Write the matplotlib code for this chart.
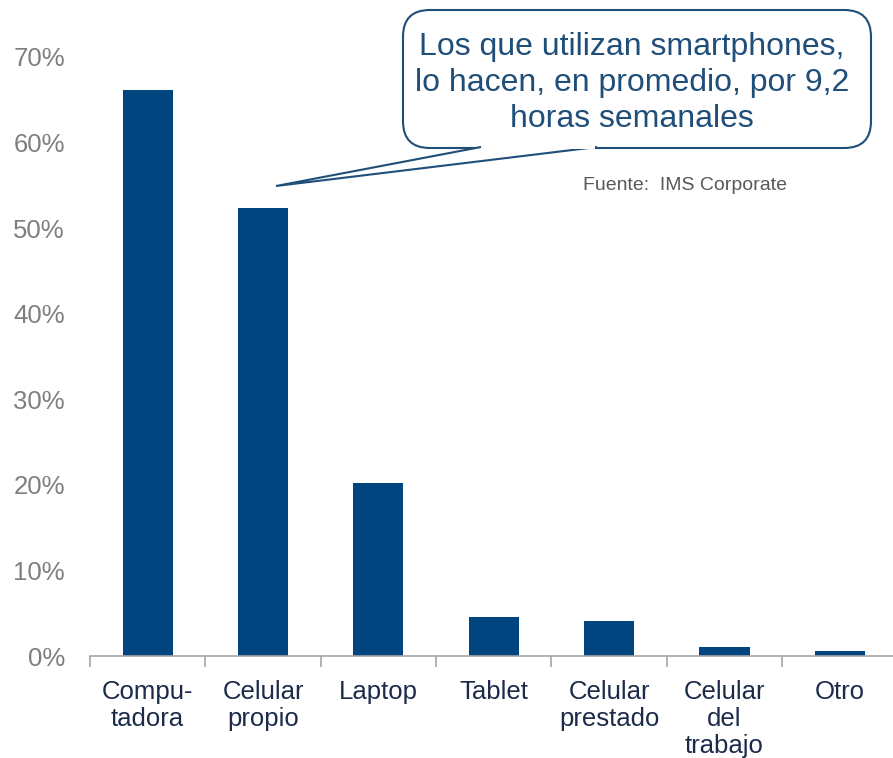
import matplotlib
matplotlib.use("Agg")
import matplotlib.pyplot as plt
from matplotlib.patches import FancyBboxPatch, Polygon

# data
categories = ["Compu-\ntadora", "Celular\npropio", "Laptop", "Tablet",
              "Celular\nprestado", "Celular\ndel\ntrabajo", "Otro"]
shares = [66.1, 52.3, 20.2, 4.6, 4.1, 1.05, 0.6]
y_ticks = [0, 10, 20, 30, 40, 50, 60, 70]
y_tick_labels = [f"{t}%" for t in y_ticks]

callout_text = "Los que utilizan smartphones,\nlo hacen, en promedio, por 9,2\nhoras semanales"
source_text = "Fuente:  IMS Corporate"

bar_color = "#00457f"
label_color = "#1c2b4a"
grey = "#7f7f7f"

plt.rcParams['font.family'] = ['Liberation Sans', 'DejaVu Sans']

fig = plt.figure(figsize=(8.93, 7.58), dpi=100)
ax = fig.add_axes([90 / 893, 1 - 656 / 758, 1 - 90 / 893 + 0.005, (656 - 57) / 758])

x = list(range(len(categories)))
ax.bar(x, shares, width=0.435, color=bar_color, zorder=2)

ax.set_xlim(-0.5, len(categories) - 0.5)
ax.set_ylim(0, 70)
ax.set_yticks(y_ticks)
ax.set_yticklabels(y_tick_labels, fontsize=18.5, color=grey)
ax.tick_params(axis="y", length=0, pad=18)

# category labels, ticks at the boundaries
ax.set_xticks(x)
ax.set_xticklabels(categories, fontsize=18.5, color=label_color, linespacing=1.17, va="top")
ax.tick_params(axis="x", length=0, pad=17)
ax.set_xticks([i - 0.5 for i in range(len(categories) + 1)], minor=True)
ax.tick_params(axis="x", which="minor", length=8, color="#a6a6a6", width=1.2)

for side in ["top", "right", "left"]:
    ax.spines[side].set_visible(False)
ax.spines["bottom"].set_color("#a6a6a6")
ax.spines["bottom"].set_linewidth(1.2)

# callout bubble (figure pixel coords)
def fx(px):
    return px / 893

def fy(py):
    return 1 - py / 758

box = FancyBboxPatch((fx(403), fy(148)), fx(871) - fx(403), fy(10) - fy(148),
                     boxstyle="round,pad=0,rounding_size=0.03",
                     transform=fig.transFigure, facecolor="white",
                     edgecolor="#1f4e79", linewidth=1.5, mutation_aspect=893 / 758)
fig.add_artist(box)
tail = Polygon([(fx(481), fy(147)), (fx(276), fy(186)), (fx(597), fy(147))],
               closed=False, transform=fig.transFigure, facecolor="white",
               edgecolor="#1f4e79", linewidth=1.5, joinstyle="miter")
fig.add_artist(tail)
cover = Polygon([(fx(483), fy(146)), (fx(595), fy(146)), (fx(595), fy(149)), (fx(483), fy(149))],
                transform=fig.transFigure, facecolor="white", edgecolor="none")
fig.add_artist(cover)
fig.text(fx(632), fy(83), callout_text, ha="center", va="center",
         fontsize=23, color="#1f4e79", linespacing=1.27)

fig.text(fx(685), fy(185), source_text, ha="center", va="center",
         fontsize=14, color="#595959")

fig.savefig("out.png", dpi=100)
